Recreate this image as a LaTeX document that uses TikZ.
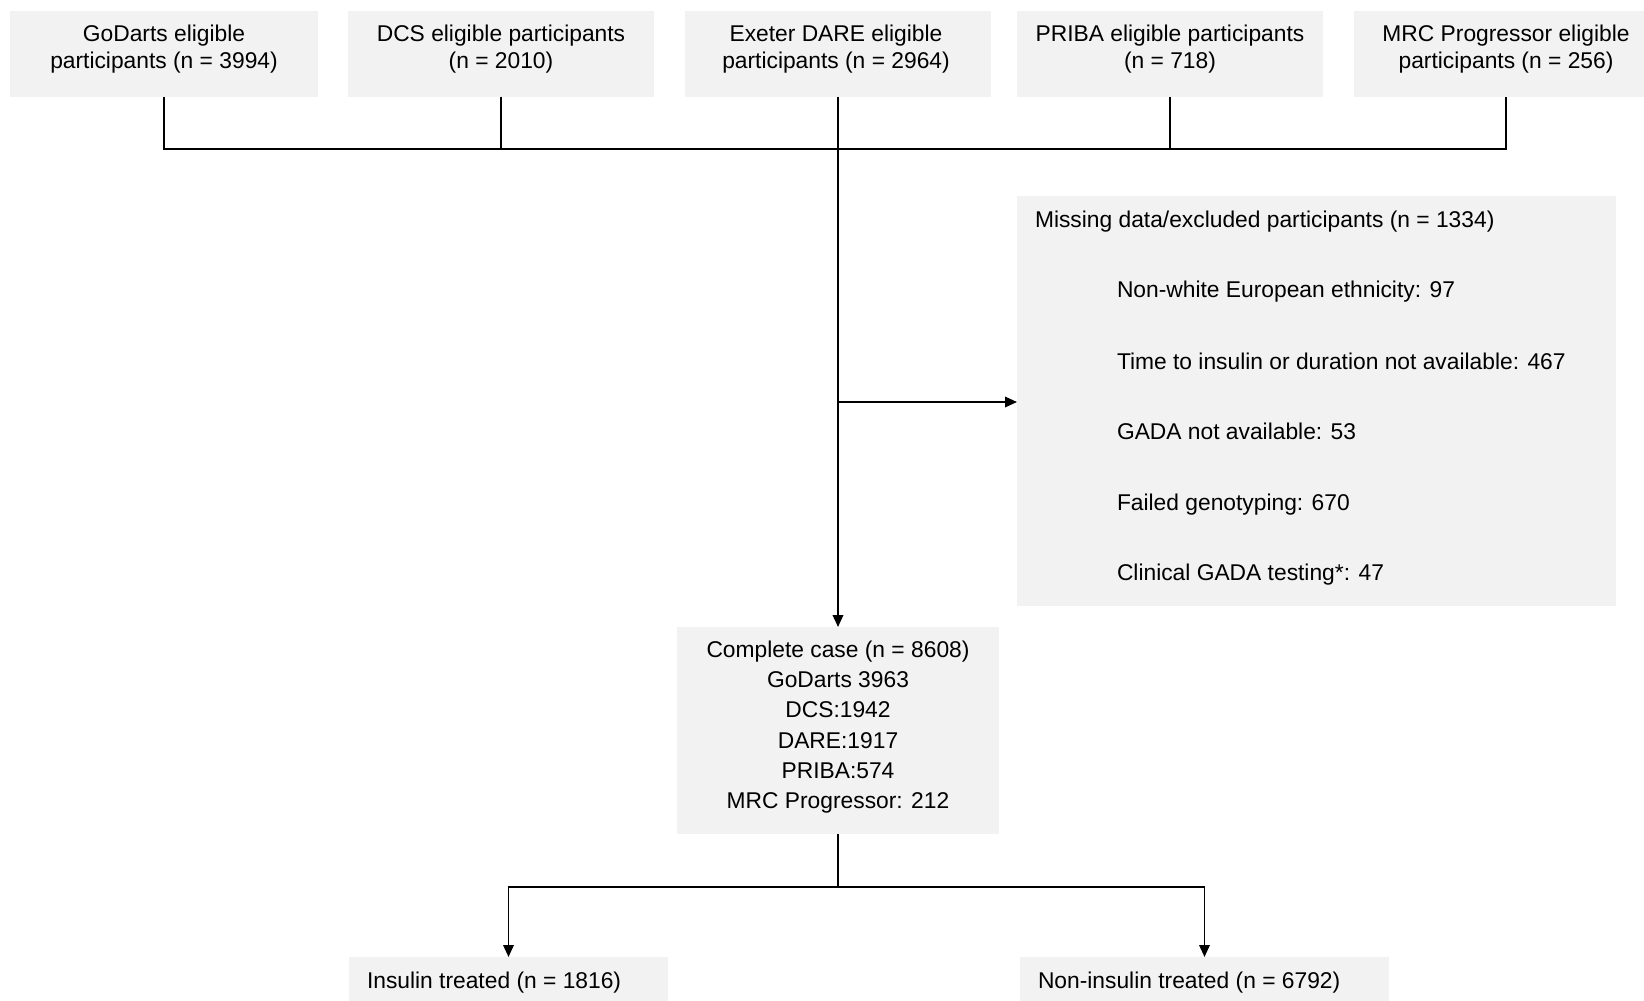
\documentclass[tikz,border=0pt]{standalone}
\usepackage{fontspec}
\setmainfont{Liberation Sans}
\usetikzlibrary{arrows.meta}
\definecolor{boxgray}{RGB}{242,242,242}
\begin{document}
\begin{tikzpicture}[x=1pt,y=-1pt,
 box/.style={fill=boxgray,draw=none,inner sep=0,outer sep=0,rectangle},
 txt/.style={inner sep=0,outer sep=0,font=\fontsize{22.8}{27}\selectfont,align=center,anchor=base},
 ltxt/.style={txt,anchor=base west},
 thinline/.style={line width=1.1pt,draw=black},
 thickline/.style={line width=1.9pt,draw=black},
 arr/.style={-{Triangle[length=12pt,width=10.5pt]}}]
\clip (0,0) rectangle (1644,1001);
% top boxes
\node[box,minimum width=307.5pt,minimum height=86pt] (b1) at (164,53.5) {};
\node[box,minimum width=306pt,minimum height=86pt] (b2) at (501,53.5) {};
\node[box,minimum width=306pt,minimum height=86pt] (b3) at (838,53.5) {};
\node[box,minimum width=306pt,minimum height=86pt] (b4) at (1170,53.5) {};
\node[box,minimum width=290pt,minimum height=86pt] (b5) at (1499,53.5) {};
\node[txt] (t1) at (164,68) {GoDarts eligible\\participants (n = 3994)};
\node[txt] (t2) at (501,68) {DCS eligible participants\\(n = 2010)};
\node[txt] (t3) at (836,68) {Exeter DARE eligible\\participants (n = 2964)};
\node[txt] (t4) at (1170,68) {PRIBA eligible participants\\(n = 718)};
\node[txt] (t5) at (1506,68) {MRC Progressor eligible\\participants (n = 256)};
% excluded box
\node[box,minimum width=599pt,minimum height=410pt] (ex) at (1316.5,401) {};
\node[ltxt] (e0) at (1035,227.5) {Missing data/excluded participants (n = 1334)};
\node[ltxt] (e1) at (1117,297.5) {Non-white European ethnicity: 97};
\node[ltxt] (e2) at (1117,369) {Time to insulin or duration not available: 467};
\node[ltxt] (e3) at (1117,439.5) {GADA not available: 53};
\node[ltxt] (e4) at (1117,510) {Failed genotyping: 670};
\node[ltxt] (e5) at (1117,580.5) {Clinical GADA testing*: 47};
% complete case
\node[box,minimum width=322pt,minimum height=207pt] (cc) at (838,730.5) {};
\node[txt,font=\fontsize{22.8}{30.2}\selectfont] (cct) at (838,808.5) {Complete case (n = 8608)\\GoDarts 3963\\DCS:1942\\DARE:1917\\PRIBA:574\\MRC Progressor: 212};
% bottom boxes
\node[box,minimum width=319pt,minimum height=46pt] (ins) at (508.5,980) {};
\node[ltxt] (tins) at (367,988.5) {Insulin treated (n = 1816)};
\node[box,minimum width=369pt,minimum height=46pt] (non) at (1204.5,980) {};
\node[ltxt] (tnon) at (1038,988.5) {Non-insulin treated (n = 6792)};
% connectors top
\coordinate (hL) at (164,149);
\coordinate (hR) at (1506,149);
\draw[thinline] (b1.south) -- (hL) -- (hR) -- (t5 |- b5.south);
\draw[thinline] (b2.south) -- (b2.south |- hL);
\draw[thinline] (b4.south) -- (b4.south |- hL);
\draw[thickline,arr] (b3.south) -- (cc.north);
\coordinate (br) at (838,402);
\draw[thickline,arr] (br) -- (ex.west |- br);
% connectors bottom
\coordinate (bj) at (838,887);
\draw[thinline] (cc.south) -- (bj);
\draw[thickline,arr] (bj) -| (ins.north);
\draw[thickline,arr] (bj) -| (non.north);
\end{tikzpicture}
\end{document}
